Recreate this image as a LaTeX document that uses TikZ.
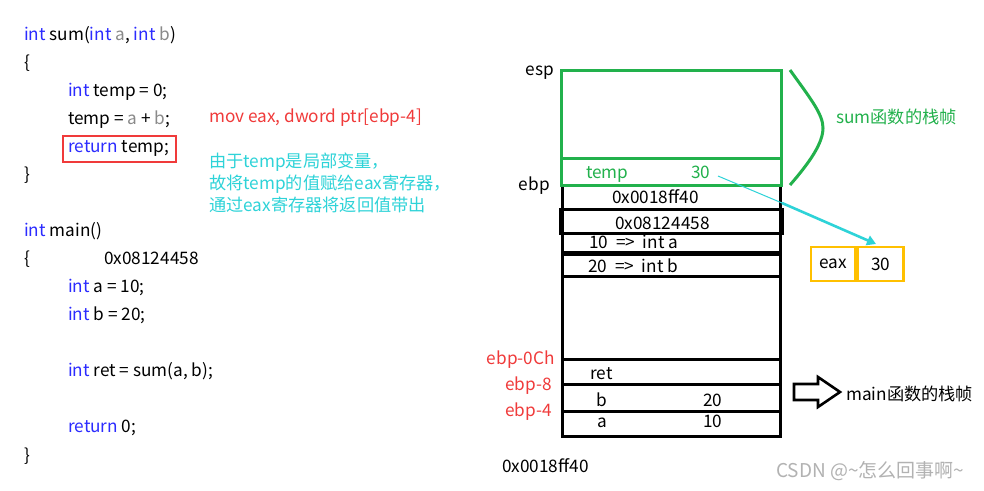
\documentclass[tikz,border=0pt]{standalone}
\usepackage{fontspec}
\setmainfont{Noto Sans CJK SC}
\usetikzlibrary{arrows.meta}
\definecolor{kwblue}{HTML}{2B2BFF}
\definecolor{pgray}{HTML}{8A8A8A}
\definecolor{rd}{HTML}{F03A3A}
\definecolor{cy}{HTML}{2ED3D8}
\definecolor{gr}{HTML}{22B14C}
\definecolor{org}{HTML}{FFC000}
\newcommand\kw[1]{\textcolor{kwblue}{#1}}
\newcommand\pa[1]{\textcolor{pgray}{#1}}
\begin{document}
\begin{tikzpicture}[x=1pt,y=-1pt,
  code/.style={anchor=base west,inner sep=0pt,font=\fontsize{17.2}{20}\selectfont},
  lab/.style={anchor=base west,inner sep=0pt,font=\fontsize{17.2}{20}\selectfont},
  labr/.style={lab,anchor=base east},
  stk/.style={line width=3pt,black},
  grn/.style={line width=3pt,gr}]
\useasboundingbox (0,0) rectangle (984,490);
\fill[white] (0,0) rectangle (984,490);
% code
\node[code] (c1) at (24,40) {\kw{int} sum(\kw{int} \pa{a}, \kw{int} \pa{b})};
\node[code] (c2) at (24,68) {\{};
\node[code] (c3) at (68,96) {\kw{int} temp = 0;};
\node[code] (c4) at (68,124) {temp = \pa{a} + \pa{b};};
\node[code] (c5) at (68,152) {\kw{return} temp;};
\draw[rd,line width=2.4pt] (63,136) rectangle (176,162);
\node[code] (c6) at (24,180) {\}};
\node[code] (c7) at (24,236) {\kw{int} main()};
\node[code] (c8) at (24,264) {\{};
\node[code] (c8b) at (104,264) {0x08124458};
\node[code] (c9) at (68,292) {\kw{int} a = 10;};
\node[code] (c10) at (68,320) {\kw{int} b = 20;};
\node[code] (c11) at (68,376) {\kw{int} ret = sum(a, b);};
\node[code] (c12) at (68,432) {\kw{return} 0;};
\node[code] (c13) at (24,461) {\}};
% annotations
\node[lab,text=rd] (mov) at (209,122) {mov eax, dword ptr[ebp-4]};
\node[lab,text=cy] (n1) at (209,167) {由于temp是局部变量，};
\node[lab,text=cy] (n2) at (209,189) {故将temp的值赋给eax寄存器，};
\node[lab,text=cy] (n3) at (209,211) {通过eax寄存器将返回值带出};
% stack labels
\node[labr] (esp) at (554,75) {esp};
\node[labr] (ebp) at (550,190) {ebp};
\node[labr,text=rd] (e0c) at (555,364) {ebp-0Ch};
\node[labr,text=rd] (e8) at (552,390) {ebp-8};
\node[labr,text=rd] (e4) at (552,416) {ebp-4};
\node[lab] (bot) at (502,472) {0x0018ff40};
% stack body (black)
\draw[stk] (562,185) -- (562,436) -- (780,436) -- (780,185);
\draw[stk] (562,209) -- (780,209);
\draw[stk] (560,209) rectangle (782,233);
\draw[stk] (562,252) -- (780,252);
\draw[stk] (562,254) -- (780,254);
\draw[stk] (562,276) -- (780,276);
\draw[stk] (562,359) -- (780,359);
\draw[stk] (562,384) -- (780,384);
\draw[stk] (562,411) -- (782,411);
% green frame
\draw[grn] (561,70) rectangle (781,185);
\draw[grn] (561,158) -- (781,158);
\draw[grn] (790,70) .. controls (810,98) and (823,114) .. (823,128) .. controls (823,143) and (810,162) .. (790,185);
\node[lab,text=gr] (sumf) at (836,123) {sum函数的栈帧};
% stack texts
\node[lab,text=gr] (tmp) at (586,178) {temp};
\node[lab,text=gr] (t30) at (691,178) {30};
\node[lab] (r1) at (612,203) {0x0018ff40};
\node[lab] (r2) at (615,229) {0x08124458};
\node[lab] (r3) at (589,248) {10~~=>~~int a};
\node[lab] (r4) at (588,272) {20~~=>~~int b};
\node[lab] (rret) at (590,379) {ret};
\node[lab] (rb) at (596,406) {b};
\node[lab] (rb2) at (703,406) {20};
\node[lab] (ra) at (597,427) {a};
\node[lab] (ra2) at (703,427) {10};
% eax box
\node[draw=org,line width=2.6pt,minimum width=44pt,minimum height=34pt,inner sep=0pt,font=\fontsize{17.2}{20}\selectfont] (eax) at (833,264) {eax};
\node[draw=org,line width=2.6pt,minimum width=46pt,minimum height=34pt,inner sep=0pt,font=\fontsize{17.2}{20}\selectfont,anchor=west] (eax30) at (eax.east) {30};
% cyan arrow
\coordinate (tstart) at (718,176);
\coordinate (tmid) at (782,203);
\draw[cy,line width=1pt] (tstart) -- (tmid);
\draw[cy,line width=2.6pt,-{Triangle[length=9pt,width=10pt]}] (tmid) -- (876,244);
% hollow arrow
\draw[line width=2.6pt,line join=miter] (794,384) -- (818,384) -- (818,377) -- (840,392) -- (818,407) -- (818,400) -- (794,400) -- cycle;
\node[lab] (mainf) at (846,400) {main函数的栈帧};
% watermark
\node[lab,text=black!30,font=\fontsize{19}{22}\selectfont] (wm) at (776,477) {CSDN @\textasciitilde 怎么回事啊\textasciitilde};
\end{tikzpicture}
\end{document}
